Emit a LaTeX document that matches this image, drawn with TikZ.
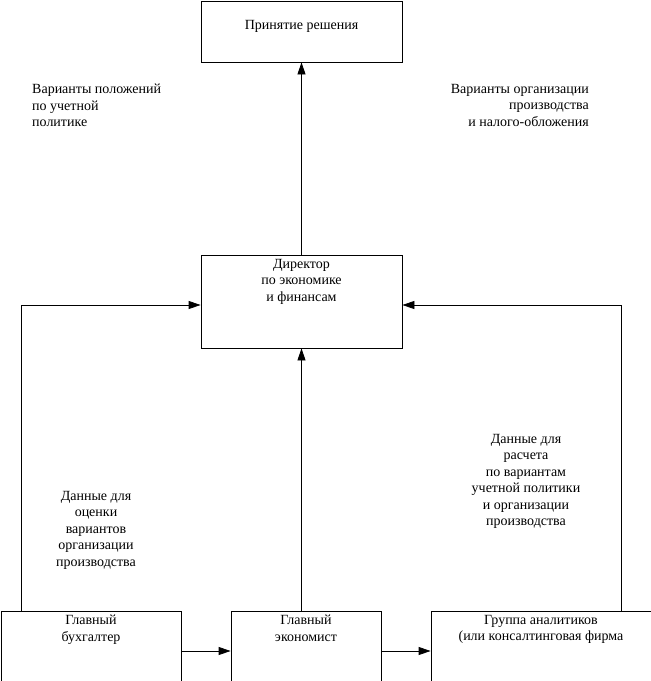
\documentclass[tikz,border=0pt]{standalone}
\usepackage{fontspec}
\setmainfont{Liberation Serif}
\usetikzlibrary{arrows.meta,calc}
\begin{document}
\begin{tikzpicture}[x=1pt,y=-1pt,
  box/.style={draw,line width=0.8pt,inner sep=0pt},
  txt/.style={inner sep=0pt,font=\fontsize{14}{16.5}\selectfont},
  arr/.style={line width=0.8pt,-{Triangle[length=12pt,width=8pt]}}]
\useasboundingbox (0,0) rectangle (651,681);
\clip (0,0) rectangle (651,681);
\fill[white] (0,0) rectangle (651,681);
% boxes
\node[box,minimum width=201pt,minimum height=61pt] (top) at (301.5,31.5) {};
\node[box,minimum width=201pt,minimum height=93pt] (dir) at (301.5,301.5) {};
\node[box,minimum width=180pt,minimum height=90pt] (b1) at (91,656) {};
\node[box,minimum width=150pt,minimum height=90pt] (b2) at (306,656) {};
\node[box,minimum width=230pt,minimum height=90pt] (b3) at (546,656) {};
% box texts
\node[txt,anchor=north] (ttop) at (301.5,20.5) {Принятие решения};
\node[txt,anchor=north,align=center] (tdir) at (301.5,259) {Директор\\по экономике\\и финансам};
\node[txt,anchor=north,align=center] (tb1) at (91,615) {Главный\\бухгалтер};
\node[txt,anchor=north,align=center] (tb2) at (306,615) {Главный\\экономист};
\node[txt,anchor=north,align=center] (tb3) at (541,615) {Группа аналитиков\\(или консалтинговая фирма};
% free texts
\node[txt,anchor=north west,align=left] (tl) at (32,84) {Варианты положений\\по учетной\\политике};
\node[txt,anchor=north east,align=right] (tr) at (589,84) {Варианты организации\\производства\\и налого-обложения};
\node[txt,anchor=north,align=center] (tdl) at (96,491) {Данные для\\оценки\\вариантов\\организации\\производства};
\node[txt,anchor=north,align=center] (tdr) at (526,434) {Данные для\\расчета\\по вариантам\\учетной политики\\и организации\\производства};
% coordinates
\coordinate (l1) at (21,611);
\coordinate (l2) at (21,305);
\coordinate (r1) at (621,611);
\coordinate (r2) at (621,305);
% connectors
\draw[arr] (dir.north) -- (top.south);
\draw[arr] (b2.north -| dir.south) -- (dir.south);
\draw[arr] (l1) -- (l2) -- (l2 -| dir.west);
\draw[arr] (r1) -- (r2) -- (r2 -| dir.east);
\draw[arr] (b1.east |- 0,651) -- (b2.west |- 0,651);
\draw[arr] (b2.east |- 0,651) -- (b3.west |- 0,651);
\end{tikzpicture}
\end{document}
